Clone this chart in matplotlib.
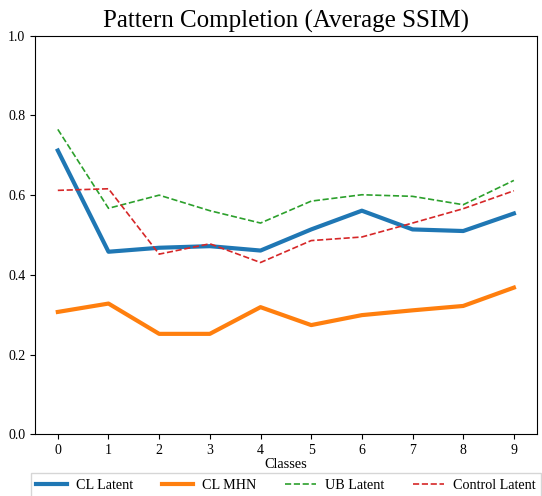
import matplotlib
matplotlib.use("Agg")
import matplotlib.pyplot as plt

plt.rcParams['font.family'] = ['Liberation Serif', 'DejaVu Serif']

classes = list(range(10))
cl_latent = [0.712, 0.458, 0.468, 0.472, 0.461, 0.514, 0.561, 0.514, 0.510, 0.554]
cl_mhn = [0.307, 0.328, 0.252, 0.252, 0.319, 0.274, 0.299, 0.311, 0.322, 0.368]
ub_latent = [0.765, 0.567, 0.600, 0.561, 0.530, 0.585, 0.601, 0.597, 0.576, 0.637]
control_latent = [0.612, 0.616, 0.452, 0.478, 0.431, 0.486, 0.495, 0.530, 0.566, 0.611]

fig = plt.figure(figsize=(5.42, 4.96), dpi=100)
ax = fig.add_axes([0.0646, 0.1244, 0.9256, 0.8036])

ax.plot(classes, cl_latent, color='tab:blue', lw=3, label='CL Latent')
ax.plot(classes, cl_mhn, color='tab:orange', lw=3, label='CL MHN')
ax.plot(classes, ub_latent, color='tab:green', lw=1.2, ls='--', label='UB Latent')
ax.plot(classes, control_latent, color='tab:red', lw=1.2, ls='--', label='Control Latent')

ax.set_ylim(0, 1)
ax.set_xticks(classes)
ax.set_xlabel('Classes', fontsize=10.3, labelpad=1)
ax.set_title('Pattern Completion (Average SSIM)', fontsize=18)
ax.legend(loc='upper center', bbox_to_anchor=(0.5, -0.08), ncol=4,
          fontsize=10.2, fancybox=False, handlelength=2.15, handletextpad=0.65,
          columnspacing=2.05)

fig.savefig('out.png')
